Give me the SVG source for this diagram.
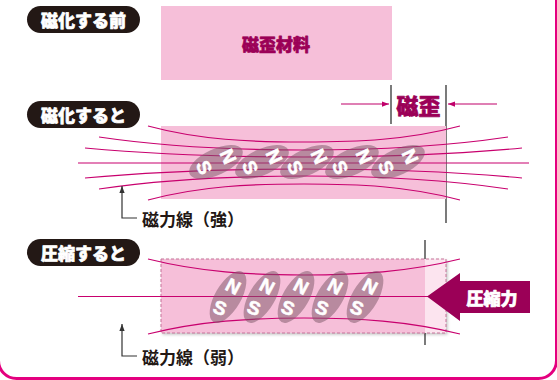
<svg xmlns="http://www.w3.org/2000/svg" width="557" height="380" viewBox="0 0 557 380">
  <style>
    .jp { font-family: "Noto Sans CJK JP", "Noto Sans", sans-serif; font-weight: 900; }
    .heavy { stroke-width: 0.7; stroke-linejoin: round; }
    .pill rect { fill: #231815; }
    .pill text { fill: #ffffff; stroke: #ffffff; font-size: 17px; text-anchor: middle; dominant-baseline: central; }
    .mat { fill: #f6bfd9; }
    .field { fill: none; stroke: #c8006e; stroke-width: 1.2; }
    .mag { fill: #7a5565; fill-opacity: 0.5; }
    .pole { font-family: "Liberation Sans", Arial, sans-serif; font-weight: bold; font-size: 19px; fill: #ffffff; stroke: #ffffff; stroke-width: 0.6; text-anchor: middle; dominant-baseline: central; }
    .edge { stroke: #333333; stroke-width: 1.3; fill: none; }
    .callout { stroke: #333333; stroke-width: 1.2; fill: none; }
    .note { fill: #231815; font-size: 17px; dominant-baseline: central; font-weight: bold; }
    .plum { fill: #9b0057; stroke: #9b0057; }
  </style>
  <defs>
    <marker id="tipMag" viewBox="0 0 8 8" refX="8" refY="4" markerWidth="7" markerHeight="7" orient="auto" markerUnits="userSpaceOnUse">
      <path d="M0,1 L8,4 L0,7 Z" fill="#c0006a"/>
    </marker>
    <marker id="tipDark" viewBox="0 0 8 8" refX="8" refY="4" markerWidth="7" markerHeight="7" orient="auto" markerUnits="userSpaceOnUse">
      <path d="M0,1 L8,4 L0,7 Z" fill="#333333"/>
    </marker>
    <filter id="shadow" x="-5%" y="-20%" width="110%" height="140%">
      <feDropShadow dx="1.5" dy="1.5" stdDeviation="1.5" flood-color="#000000" flood-opacity="0.25"/>
    </filter>
    <!-- one magnetic domain: tilted ellipse -->
    <ellipse id="domain" cx="0" cy="0" rx="29" ry="13" class="mag"/>
  </defs>

  <!-- outer frame -->
  <rect x="-1.5" y="-30" width="558" height="408.5" rx="18" fill="none" stroke="#e4007f" stroke-width="3"/>

  <!-- state labels -->
  <g id="label-before" class="pill jp">
    <rect x="27" y="6" width="113" height="27" rx="13.5"/>
    <text class="heavy" x="83.5" y="19.5">磁化する前</text>
  </g>
  <g id="label-magnetized" class="pill jp">
    <rect x="27" y="101" width="113" height="27" rx="13.5"/>
    <text class="heavy" x="83.5" y="114.5">磁化すると</text>
  </g>
  <g id="label-compressed" class="pill jp">
    <rect x="27" y="239" width="113" height="27" rx="13.5"/>
    <text class="heavy" x="83.5" y="252.5">圧縮すると</text>
  </g>

  <!-- material before magnetization -->
  <g id="material-before">
    <rect class="mat" x="161" y="6" width="231" height="74"/>
    <text class="jp plum heavy" x="276" y="43" font-size="17" text-anchor="middle" dominant-baseline="central">磁歪材料</text>
  </g>

  <!-- magnetostriction dimension -->
  <g id="magnetostriction">
    <line class="edge" x1="391" y1="85" x2="391" y2="124"/>
    <line class="edge" x1="446" y1="85" x2="446" y2="223"/>
    <text class="jp plum heavy" x="418.5" y="104" font-size="22" text-anchor="middle" dominant-baseline="central">磁歪</text>
  </g>

  <!-- magnetized material -->
  <g id="material-magnetized">
    <rect class="mat" x="161" y="126" width="285" height="73"/>
  </g>

  <!-- compressed material -->
  <g id="material-compressed">
    <line class="edge" x1="425" y1="240" x2="425" y2="260"/>
    <line class="edge" x1="425" y1="333" x2="425" y2="345"/>
    <rect x="161" y="259" width="285" height="74" fill="#f6bfd9" filter="url(#shadow)"/>
    <rect x="425" y="259" width="21" height="74" fill="#fce4ef"/>
    <rect x="161" y="259" width="285" height="74" fill="none" stroke="#c77399" stroke-width="1" stroke-dasharray="3 2"/>
  </g>

  <!-- connectors: field lines, dimension arrows, callouts -->
  <g id="connectors">
    <!-- strong field lines -->
    <path class="field" d="M148,126 C200,140 250,142 304,142 S408,140 460,126"/>
    <path class="field" d="M99,137 C160,146 230,150 304,150 S448,146 508,137"/>
    <path class="field" d="M85,148 C150,154 230,157 304,157 S458,154 522,148"/>
    <path class="field" d="M78,163 H529"/>
    <path class="field" d="M85,178 C150,172 230,169 304,169 S458,172 522,178"/>
    <path class="field" d="M99,189 C160,180 230,176 304,176 S448,180 508,189"/>
    <path class="field" d="M148,200 C200,186 250,184 304,184 S408,186 460,200"/>
    <!-- weak field lines -->
    <path class="field" d="M148,259 C200,272 250,275 304,275 S408,272 460,259"/>
    <path class="field" d="M78,296.5 H430"/>
    <path class="field" d="M148,334 C200,321 250,318 304,318 S408,321 460,334"/>
    <!-- magnetostriction arrows -->
    <line x1="341" y1="104" x2="389" y2="104" stroke="#c0006a" stroke-width="1.2" marker-end="url(#tipMag)"/>
    <line x1="497" y1="104" x2="448" y2="104" stroke="#c0006a" stroke-width="1.2" marker-end="url(#tipMag)"/>
    <!-- callouts -->
    <polyline class="callout" points="137,218 122,218 122,186" marker-end="url(#tipDark)"/>
    <polyline class="callout" points="137,356 122,356 122,324" marker-end="url(#tipDark)"/>
  </g>

  <!-- domains, magnetized: lying along the field -->
  <g id="domains-strong">
    <g transform="translate(216,162)"><use href="#domain" transform="rotate(-25)"/><text class="pole" x="12" y="-5.5" transform="rotate(65 12 -5.5)">N</text><text class="pole" x="-12" y="5.5" transform="rotate(65 -12 5.5)">S</text></g>
    <g transform="translate(262,162)"><use href="#domain" transform="rotate(-25)"/><text class="pole" x="12" y="-5.5" transform="rotate(65 12 -5.5)">N</text><text class="pole" x="-12" y="5.5" transform="rotate(65 -12 5.5)">S</text></g>
    <g transform="translate(307,162)"><use href="#domain" transform="rotate(-25)"/><text class="pole" x="12" y="-5.5" transform="rotate(65 12 -5.5)">N</text><text class="pole" x="-12" y="5.5" transform="rotate(65 -12 5.5)">S</text></g>
    <g transform="translate(352,162)"><use href="#domain" transform="rotate(-25)"/><text class="pole" x="12" y="-5.5" transform="rotate(65 12 -5.5)">N</text><text class="pole" x="-12" y="5.5" transform="rotate(65 -12 5.5)">S</text></g>
    <g transform="translate(398,162)"><use href="#domain" transform="rotate(-25)"/><text class="pole" x="12" y="-5.5" transform="rotate(65 12 -5.5)">N</text><text class="pole" x="-12" y="5.5" transform="rotate(65 -12 5.5)">S</text></g>
  </g>

  <!-- domains, compressed: turned upright -->
  <g id="domains-weak">
    <g transform="translate(228,297)"><use href="#domain" transform="rotate(-60)"/><text class="pole" x="5" y="-10.5" transform="rotate(28 5 -10.5)">N</text><text class="pole" x="-8" y="11" transform="rotate(20 -8 11)">S</text></g>
    <g transform="translate(262,297)"><use href="#domain" transform="rotate(-60)"/><text class="pole" x="5" y="-10.5" transform="rotate(28 5 -10.5)">N</text><text class="pole" x="-8" y="11" transform="rotate(20 -8 11)">S</text></g>
    <g transform="translate(296,297)"><use href="#domain" transform="rotate(-60)"/><text class="pole" x="5" y="-10.5" transform="rotate(28 5 -10.5)">N</text><text class="pole" x="-8" y="11" transform="rotate(20 -8 11)">S</text></g>
    <g transform="translate(330,297)"><use href="#domain" transform="rotate(-60)"/><text class="pole" x="5" y="-10.5" transform="rotate(28 5 -10.5)">N</text><text class="pole" x="-8" y="11" transform="rotate(20 -8 11)">S</text></g>
    <g transform="translate(365,297)"><use href="#domain" transform="rotate(-60)"/><text class="pole" x="5" y="-10.5" transform="rotate(28 5 -10.5)">N</text><text class="pole" x="-8" y="11" transform="rotate(20 -8 11)">S</text></g>
  </g>

  <!-- callout texts -->
  <g id="note-strong">
    <text class="jp note" x="142" y="218">磁力線（強）</text>
  </g>
  <g id="note-weak">
    <text class="jp note" x="142" y="356">磁力線（弱）</text>
  </g>

  <!-- compressive force arrow -->
  <g id="force">
    <path d="M427,296.5 L460,273 L460,281 L530,281 L530,313 L460,313 L460,321 Z" fill="#9b0057"/>
    <text class="jp heavy" x="492" y="297" font-size="17" fill="#ffffff" stroke="#ffffff" text-anchor="middle" dominant-baseline="central">圧縮力</text>
  </g>
</svg>
